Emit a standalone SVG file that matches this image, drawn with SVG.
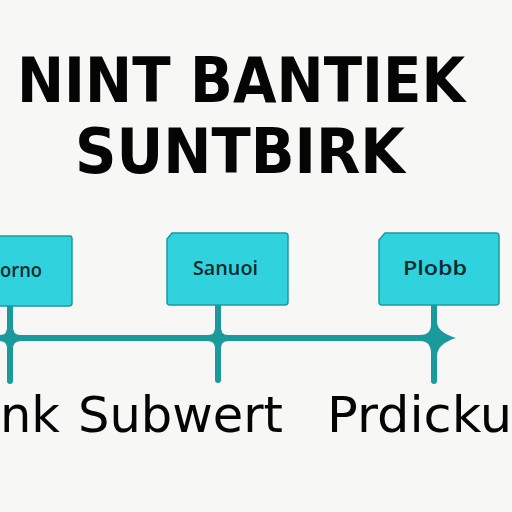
<svg xmlns="http://www.w3.org/2000/svg" width="512" height="512" viewBox="0 0 512 512">
<style>
.title{font-family:"DejaVu Sans",sans-serif;font-weight:bold;font-size:62px;fill:#050505}
.box{fill:#30d3dd;stroke:#1b9aa2;stroke-width:1.5}
.blabel{font-family:"Open Sans",sans-serif;font-weight:600;font-size:19px;fill:#0d2a2c}
.big{font-family:"DejaVu Sans",sans-serif;font-size:50px;fill:#050505}
.wire{stroke:#1b9a9c;stroke-width:6;fill:none}
.fillet{fill:#1b9a9c}
</style>
<rect width="512" height="512" fill="#f7f7f6"/>
<g id="title">
<text class="title" x="17" y="102" textLength="448" lengthAdjust="spacingAndGlyphs">NINT BANTIEK</text>
<text class="title" x="75" y="173" textLength="330" lengthAdjust="spacingAndGlyphs">SUNTBIRK</text>
</g>
<g id="connectors">
<path class="wire" d="M0 338 H448"/>
<path class="wire" d="M10 306 V381" stroke-linecap="round"/>
<path class="wire" d="M218 305 V380" stroke-linecap="round"/>
<path class="wire" d="M434 305 V381" stroke-linecap="round"/>
<path class="fillet" d="M0 335 Q8 335 7 325 L13 325 Q12 335 21 335 L21 341 Q12 341 13 351 L7 351 Q8 341 0 341 Z"/>
<path class="fillet" d="M208 335 Q216 335 215 325 L221 325 Q220 335 228 335 L228 341 Q220 341 221 351 L215 351 Q216 341 208 341 Z"/>
<path class="fillet" d="M420 335 Q432 335 431 322 L437 322 Q437 332 456 338 Q437 344 437 356 L431 356 Q432 341 420 341 Z"/>
</g>
<g id="node1">
<path class="box" d="M-6 236 H70 Q72 236 72 239 V303 Q72 306 69 306 H-6 Z"/>
<text class="blabel" x="0" y="277" textLength="42" lengthAdjust="spacingAndGlyphs">orno</text>
</g>
<g id="node2">
<path class="box" d="M172 233 H285 Q288 233 288 236 V302 Q288 305 285 305 H170 Q167 305 167 302 V239 Z"/>
<text class="blabel" x="193" y="275" textLength="65" lengthAdjust="spacingAndGlyphs">Sanuoi</text>
</g>
<g id="node3">
<path class="box" d="M385 233 H496 Q499 233 499 236 V302 Q499 305 496 305 H382 Q379 305 379 302 V240 Z"/>
<text class="blabel" x="403" y="275" textLength="64" lengthAdjust="spacingAndGlyphs">Plobb</text>
</g>
<g id="labels">
<text class="big" x="0" y="432" textLength="60" lengthAdjust="spacingAndGlyphs">nk</text>
<text class="big" x="78" y="432" textLength="205" lengthAdjust="spacingAndGlyphs">Subwert</text>
<text class="big" x="327" y="432" textLength="185" lengthAdjust="spacingAndGlyphs">Prdicku</text>
</g>
</svg>
